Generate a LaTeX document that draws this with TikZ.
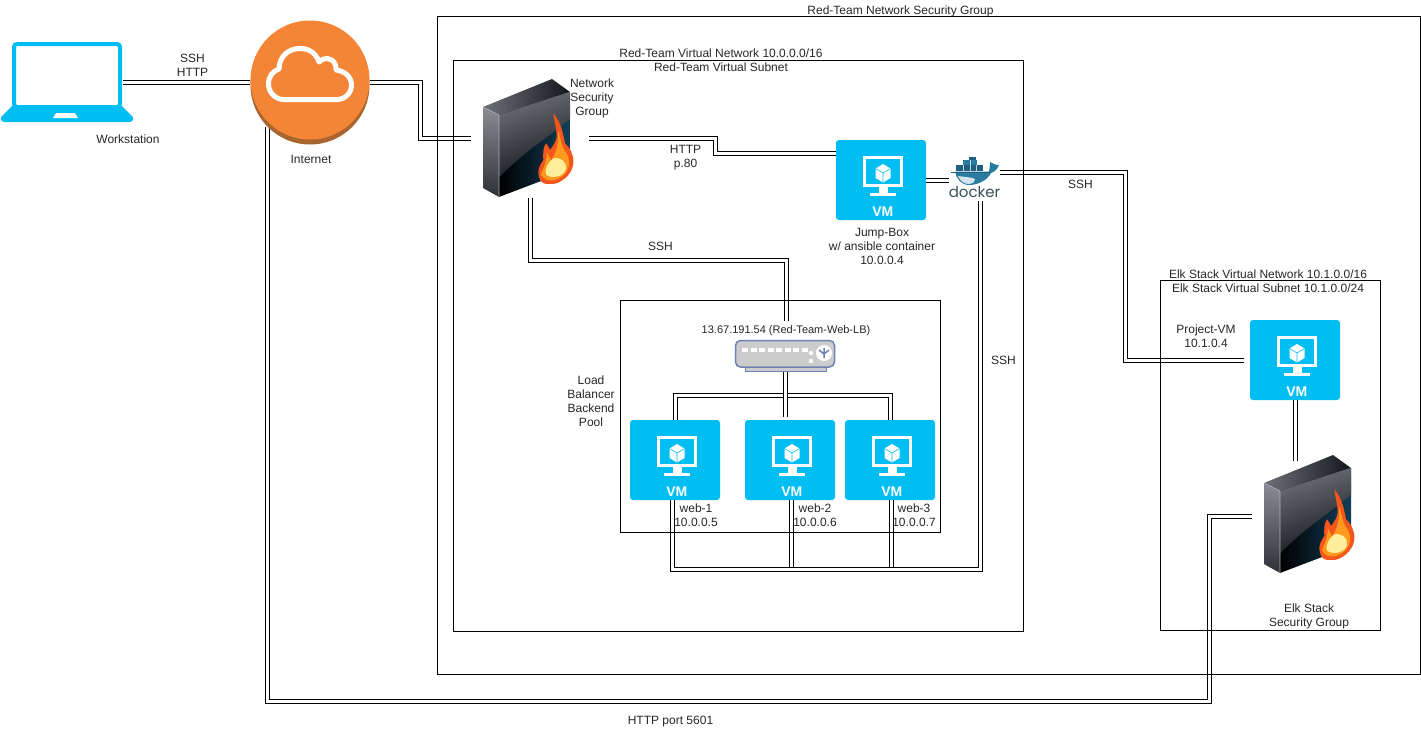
\documentclass[tikz,border=0pt]{standalone}
\usepackage{fontspec}
\setmainfont{Liberation Sans}
\newfontfamily\dockerfont{Poppins}
\definecolor{azure}{HTML}{00BEF2}
\definecolor{orangeface}{HTML}{F58536}
\definecolor{orangeedge}{HTML}{A8652F}
\definecolor{labelgray}{HTML}{262626}
\definecolor{lbgray}{HTML}{CCCCCC}
\definecolor{lbblue}{HTML}{6C83B5}
\definecolor{whale}{HTML}{2A7BA0}
\definecolor{whaledark}{HTML}{1F5F80}
\definecolor{dockertext}{HTML}{3A4F5A}
\definecolor{glossgray}{HTML}{6E7077}
\definecolor{glossdark}{HTML}{14171C}
\definecolor{sidegray}{HTML}{8A8C95}
\definecolor{sidedark}{HTML}{2E3036}
\definecolor{steelblue}{HTML}{123F58}
\definecolor{flameout}{HTML}{F4561C}
\definecolor{flamemid}{HTML}{FF9A1E}
\definecolor{flamecore}{HTML}{FFEE9C}
\tikzset{
    lbl/.style={font=\fontsize{12}{14}\selectfont, text=labelgray, align=center, inner sep=0pt},
    link/.style={draw=black, line width=1pt, double=white, double distance=3pt},
    framebox/.style={draw=black, line width=1pt},
    hitbox/.style={inner sep=0pt},
    vmbox/.style={fill=azure, rounded corners=3pt, inner sep=0pt, minimum width=90pt, minimum height=80pt,
        text=white, text height=76pt, text depth=4pt, font=\bfseries\fontsize{14}{14}\selectfont,
        execute at begin node=\hspace*{3.5pt}},
    vmscreen/.pic={
        \draw[white, line width=3pt] (-16.5,-22.5) rectangle (20,5.5);
        \fill[white] (-2,7) rectangle (6.5,13);
        \fill[white] (-11,13.3) rectangle (15,15.7);
        \fill[white] (2,-16) -- (9.5,-11.5) -- (9.5,-2) -- (2,2.5) -- (-5.5,-2) -- (-5.5,-11.5) -- cycle;
        \draw[azure, line width=0.6pt] (-5.5,-11.5) -- (2,-7) -- (9.5,-11.5) (2,-7) -- (2,2.5);
    },
    firewall/.pic={
        % Left and top faces
        \shade[top color=sidegray, bottom color=sidedark] (-47,-31.5) -- (-31,-23.5) -- (-31,58.5) -- (-47,49.5) -- cycle;
        \shade[left color=glossgray, right color=glossdark] (-47,-31.5) -- (22,-59.5) -- (40,-46.5) -- (-31,-23.5) -- cycle;
        % Front face with its gloss
        \begin{scope}
            \clip (-31,-23.5) -- (40,-46.5) -- (40,31.5) -- (-31,58.5) -- cycle;
            \shade[left color=black, middle color=black, right color=steelblue] (-31,-47) rectangle (40,59);
            \shade[left color=glossgray, right color=glossdark, shading angle=20] (-31,-47) -- (40,-47) -- (40,-20)
                .. controls (20,-2) and (-5,12) .. (-31,39) -- cycle;
        \end{scope}
        \draw[black!30, line width=0.6pt] (-47,-31.5) -- (-31,-23.5) -- (-31,58.5);
        % Flame
        \fill[flameout] (23.3,-25.2) .. controls (31.7,-15) and (33,-5) .. (35,4.8)
            .. controls (38,8) and (41,11) .. (41.7,14.8) .. controls (45,22) and (44,32) .. (35,39.8)
            .. controls (30,44) and (25,46) .. (20,45.5) .. controls (14,46) and (9,45) .. (8.3,33.2)
            .. controls (9,28) and (11,25) .. (13.3,21.5) .. controls (13,15) and (13,9) .. (16,4.8)
            .. controls (18,7) and (19,9) .. (20,11.5) .. controls (24,6) and (26,3) .. (26.7,-1.8)
            .. controls (27,-9) and (24,-17) .. (23.3,-25.2) -- cycle;
        \fill[flamemid] (28,-8) .. controls (31,0) and (31,8) .. (36,14) .. controls (41,22) and (40,32) .. (32,38)
            .. controls (25,43) and (15,44) .. (11,36) .. controls (13,30) and (16,26) .. (17,14)
            .. controls (19,18) and (20,20) .. (21,22) .. controls (26,15) and (29,5) .. (28,-8) -- cycle;
        \fill[flamecore] (23,20) .. controls (31,18) and (37,24) .. (36,30)
            .. controls (35,38) and (21,41) .. (16,36) .. controls (14,31) and (18,24) .. (23,20) -- cycle;
    },
}
\begin{document}
\begin{tikzpicture}[x=1pt, y=-1pt]
    \useasboundingbox (0,0) rectangle (1421,731);

    % Devices that the links run between
    \node[hitbox, minimum width=122pt, minimum height=81pt] (laptop) at (62,82.5) {};
    \node[hitbox, minimum width=120pt, minimum height=124pt] (internet) at (310,82.5) {};
    \node[hitbox, minimum width=118pt, minimum height=119pt] (nsg) at (530,138.5) {};
    \node[hitbox, minimum width=118pt, minimum height=119pt] (elkfw) at (1311,514.5) {};
    \node[hitbox, minimum width=100pt, minimum height=32pt] (lb) at (785,356) {};
    \node[vmbox] (jump) at (881,180) {VM};
    \node[vmbox] (web1) at (675,460) {VM};
    \node[vmbox] (web2) at (790,460) {VM};
    \node[vmbox] (web3) at (890,460) {VM};
    \node[vmbox] (projectvm) at (1295,360) {VM};
    \node[hitbox, minimum width=51pt, minimum height=44pt, text height=40pt, text depth=3.7pt, text=dockertext,
        font=\dockerfont\fontsize{15}{15}\selectfont] (docker) at (974.5,179) {docker};
    \node[lbl, font=\fontsize{11}{14}\selectfont, minimum height=20pt] (lbname) at (786,331) {13.67.191.54 (Red-Team-Web-LB)};
    \coordinate (netdrop) at (267,127);
    \coordinate (dockertail) at (1000,172);
    \coordinate (elktop) at (1295.5,460.7);

    % Links
    \draw[link] (laptop.east) -- (internet.west);
    \draw[link] (internet.east) -- ++(50,0) |- (nsg.west);
    \draw[link] (nsg.east) -- ++(126,0) |- ([yshift=27pt]jump.west);
    \draw[link] (nsg.south) -- ++(0,62) -| (lbname.north);
    \draw[link] (lb.south) -- ++(0,23.5) -| (web1.north);
    \draw[link] (lb.south) -- ++(0,23.5) -| (web3.north);
    \draw[link] (lb.south) -- ++(0,45);
    \draw[link] (jump.east) -- (jump.east -| docker.west);
    \draw[link] (dockertail) -- ++(125,0) |- ([xshift=-6pt]projectvm.west);
    \draw[link] ([xshift=1pt]web2.south) -- ++(0,68.7);
    \draw[link] ([xshift=1pt]web3.south) -- ++(0,68.7);
    \draw[link] ([xshift=5.5pt]docker.south) -- ++(0,368) -| ([xshift=-3pt]web1.south);
    \draw[link] (projectvm.south) -- (projectvm.south |- elktop);
    \draw[link] ([yshift=-1.5pt]elkfw.west) -- ++(-42,0) -- ++(0,185) -| (netdrop);

    % Frames
    \node[framebox, minimum width=983.5pt, minimum height=658pt] (nsgframe) at (928.75,345) {};
    \node[framebox, minimum width=570pt, minimum height=571pt] (vnetframe) at (738,345.5) {};
    \node[framebox, minimum width=320pt, minimum height=232pt] (poolframe) at (780,416) {};
    \node[framebox, minimum width=220pt, minimum height=350pt] (elkframe) at (1270,455) {};

    % Workstation
    \draw[azure, line width=4pt, rounded corners=3pt, fill=white] (14,44) rectangle (120,107);
    \fill[azure, rounded corners=2.5pt] (13,105) -- (121,105) -- (134,118) -- (132,122) -- (2,122) -- (0,118) -- cycle;
    \fill[white] (56,113) -- (75,113) -- (78,118) -- (53,118) -- cycle;

    % Internet
    \fill[orangeedge] (310,85) circle (59.5);
    \fill[orangeface] (310,80) circle (59.5);
    \draw[white, line width=5pt, line join=round] (284,99.5) .. controls (275,99.5) and (268.5,92) .. (268.5,84)
        .. controls (268.5,76) and (273,71) .. (279,69) .. controls (279,57) and (288,48.5) .. (300,48.5)
        .. controls (309,48.5) and (316,53) .. (319,62) .. controls (323,57) and (332,57) .. (335,64)
        .. controls (336,66) and (336,68) .. (336,70) .. controls (345,71) and (351.5,77) .. (351.5,85)
        .. controls (351.5,93) and (345,99.5) .. (337,99.5) -- cycle;

    % Firewalls
    \pic at (nsg) {firewall};
    \pic at (elkfw) {firewall};

    % VM screens
    \pic at (jump) {vmscreen};
    \pic at (web1) {vmscreen};
    \pic at (web2) {vmscreen};
    \pic at (web3) {vmscreen};
    \pic at (projectvm) {vmscreen};

    % Load balancer
    \fill[lbgray, draw=lbblue, line width=1pt] (745,366) rectangle (826,371);
    \draw[lbblue, fill=lbgray, line width=1.5pt, rounded corners=5pt] (735.5,340.5) rectangle (834.5,367);
    \draw[white, line width=3.5pt, dash pattern=on 6pt off 2.5pt] (742,350) -- (808,350);
    \fill[white] (811,353) circle (2.2);
    \fill[white] (811,361) circle (2.2);
    \fill[white] (824,353) circle (8);
    \draw[lbblue, line width=1.5pt] (824,348) -- (824,358) (819,350) -- (824,354) -- (829,350);

    % Docker whale
    \fill[whale] (955,171.5) -- (989,171.5) .. controls (990,166) and (990,163) .. (990,162)
        .. controls (993,163) and (994,165) .. (999,165) .. controls (997,170) and (994,172) .. (991,173)
        .. controls (987,181) and (977,185) .. (969,185) .. controls (961,185) and (956,178) .. (955,171.5) -- cycle;
    \fill[white!80!whale] (958,176) .. controls (964,177) and (971,177) .. (975,179)
        .. controls (974,183) and (972,184) .. (969,184) .. controls (964,184) and (960,181) .. (958,176) -- cycle;
    \draw[whaledark, line width=0.6pt] (951,172) -- (990,172);
    \fill[whaledark] (956,165) rectangle (983,171);
    \fill[whale] (963,160) rectangle (977,165);
    \fill[whaledark] (969,157) rectangle (976,160);
    \draw[white!70!whale, line width=0.5pt] (963,165) -- (963,171) (970,165) -- (970,171) (976,165) -- (976,171)
        (970,160) -- (970,165);

    % Labels
    \node[lbl] (sshhttp) at (192.5,65) {SSH\\HTTP};
    \node[lbl] (workstation) at (128,139) {Workstation};
    \node[lbl] (internetname) at (311,159) {Internet};
    \node[lbl] (nsgframename) at (900.5,11) {Red-Team Network Security Group};
    \node[lbl] (vnetname) at (721,60) {Red-Team Virtual Network 10.0.0.0/16\\Red-Team Virtual Subnet};
    \node[lbl] (nsgname) at (592,98) {Network\\Security\\Group};
    \node[lbl] (httpname) at (685.5,158) {HTTP\\p.80};
    \node[lbl] (sshlb) at (660.5,246) {SSH};
    \node[lbl] (sshweb) at (1003.5,360) {SSH};
    \node[lbl] (sshelk) at (1080.5,184) {SSH};
    \node[lbl] (jumpname) at (882,246) {Jump-Box\\w/ ansible container\\10.0.0.4};
    \node[lbl] (poolname) at (591,401) {Load\\Balancer\\Backend\\Pool};
    \node[lbl] (web1name) at (696,515.5) {web-1\\10.0.0.5};
    \node[lbl] (web2name) at (815,515.5) {web-2\\10.0.0.6};
    \node[lbl] (web3name) at (914,515.5) {web-3\\10.0.0.7};
    \node[lbl] (elkname) at (1268,281) {Elk Stack Virtual Network 10.1.0.0/16\\Elk Stack Virtual Subnet 10.1.0.0/24};
    \node[lbl] (projectname) at (1206,336) {Project-VM\\10.1.0.4};
    \node[lbl] (elkfwname) at (1309,616) {Elk Stack\\Security Group};
    \node[lbl] (kibana) at (670.5,721.5) {HTTP port 5601};
\end{tikzpicture}
\end{document}
